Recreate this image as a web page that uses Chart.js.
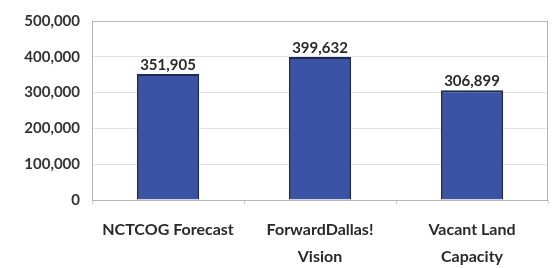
<!DOCTYPE html>
<html>
<head>
<meta charset="utf-8">
<script src="https://cdn.jsdelivr.net/npm/chart.js@4"></script>
<style>
  html, body { margin: 0; padding: 0; background: #fff; }
  #wrap { width: 555px; height: 268px; }
</style>
</head>
<body>
<div id="wrap"><canvas id="chart"></canvas></div>
<script>
const categories = [['NCTCOG Forecast'], ['ForwardDallas!', 'Vision'], ['Vacant Land', 'Capacity']];
const values = [351905, 399632, 306899];
const yTicks = [0, 100000, 200000, 300000, 400000, 500000];

// draws the value above each bar
const valueLabels = {
  id: 'valueLabels',
  afterDatasetsDraw(chart) {
    const { ctx } = chart;
    const meta = chart.getDatasetMeta(0);
    ctx.save();
    ctx.font = 'bold 15px Lato';
    ctx.fillStyle = '#2a2a2a';
    ctx.textAlign = 'center';
    ctx.textBaseline = 'alphabetic';
    meta.data.forEach((bar, i) => {
      ctx.fillText(values[i].toLocaleString('en-US'), bar.x, bar.y - 4);
    });
    ctx.restore();
  }
};

// grey frame round the plot area
const frame = {
  id: 'frame',
  beforeDatasetsDraw(chart) {
    const { ctx, chartArea: a } = chart;
    ctx.save();
    ctx.strokeStyle = '#b5b5b5';
    ctx.lineWidth = 1;
    ctx.strokeRect(a.left + 0.5, a.top + 0.5, a.right - a.left - 1, a.bottom - a.top);
    ctx.restore();
  }
};

new Chart(document.getElementById('chart'), {
  type: 'bar',
  data: {
    labels: categories,
    datasets: [{
      data: values,
      backgroundColor: '#3a53a4',
      borderColor: '#1f2a52',
      borderWidth: 2,
      barPercentage: 0.41,
      categoryPercentage: 1
    }]
  },
  options: {
    responsive: true,
    maintainAspectRatio: false,
    animation: false,
    layout: { padding: { top: 20, right: 7, left: 0, bottom: 0 } },
    plugins: {
      legend: { display: false },
      tooltip: { enabled: false }
    },
    scales: {
      x: {
        grid: { display: true, drawOnChartArea: false, tickLength: 4, color: '#cfcfcf' },
        border: { display: false },
        ticks: {
          color: '#2a2a2a',
          font: { family: 'Lato', size: 16, weight: 'bold', lineHeight: 1.7 },
          padding: 12,
          maxRotation: 0
        },
        afterFit: (scale) => { scale.height = 68; }
      },
      y: {
        min: 0,
        max: 500000,
        afterBuildTicks: (scale) => { scale.ticks = yTicks.map(v => ({ value: v })); },
        grid: { color: '#e3e3e3', drawTicks: false },
        border: { display: false },
        ticks: {
          color: '#333',
          font: { family: 'Lato', size: 15, weight: 'bold' },
          padding: 12,
          callback: (v) => v.toLocaleString('en-US')
        },
        afterFit: (scale) => { scale.width = 92; }
      }
    }
  },
  plugins: [frame, valueLabels]
});
</script>
</body>
</html>
